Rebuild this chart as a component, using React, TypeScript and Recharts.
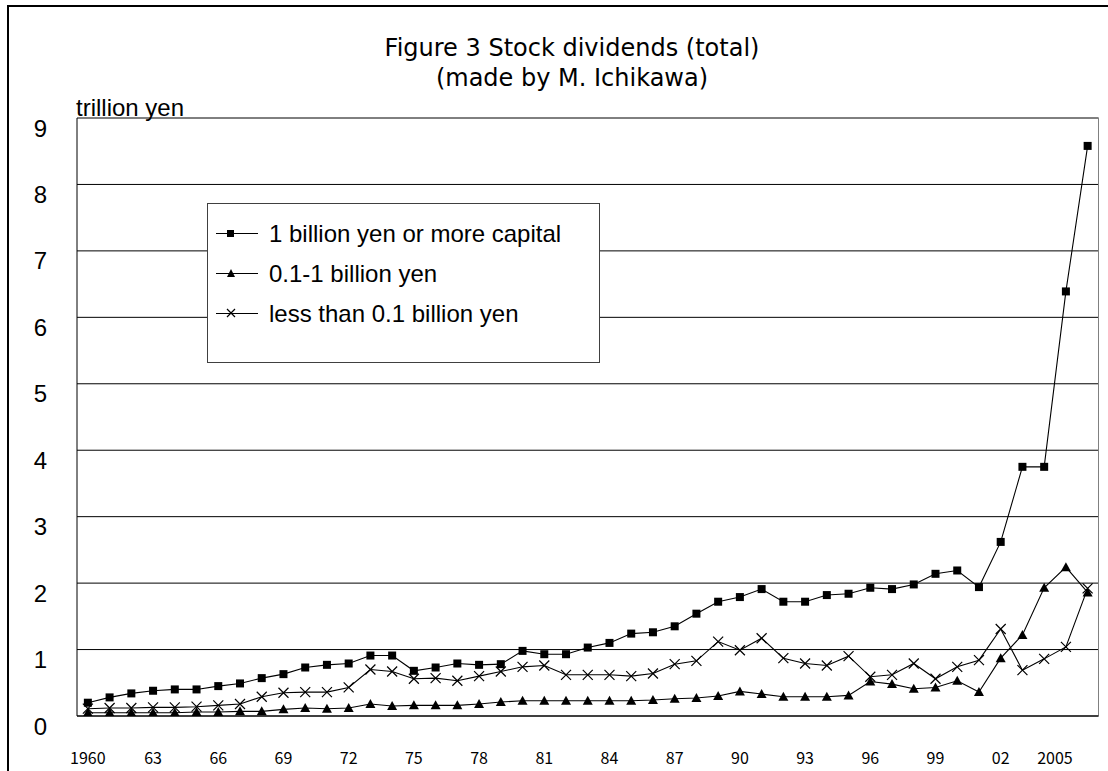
import React from 'react';
import { LineChart, Line, XAxis, YAxis, CartesianGrid, ReferenceLine, Legend } from 'recharts';

const years = [
  1960, 1961, 1962, 1963, 1964, 1965, 1966, 1967, 1968, 1969,
  1970, 1971, 1972, 1973, 1974, 1975, 1976, 1977, 1978, 1979,
  1980, 1981, 1982, 1983, 1984, 1985, 1986, 1987, 1988, 1989,
  1990, 1991, 1992, 1993, 1994, 1995, 1996, 1997, 1998, 1999,
  2000, 2001, 2002, 2003, 2004, 2005, 2006,
];

// 1 billion yen or more capital (trillion yen)
const largeCapital = [
  0.20, 0.28, 0.34, 0.38, 0.40, 0.40, 0.45, 0.49, 0.57, 0.63,
  0.73, 0.77, 0.79, 0.91, 0.91, 0.68, 0.73, 0.79, 0.77, 0.78,
  0.98, 0.93, 0.93, 1.03, 1.10, 1.24, 1.26, 1.35, 1.54, 1.72,
  1.79, 1.91, 1.72, 1.72, 1.82, 1.84, 1.93, 1.91, 1.98, 2.14,
  2.19, 1.94, 2.62, 3.75, 3.75, 6.39, 8.58,
];

// 0.1-1 billion yen
const midCapital = [
  0.05, 0.05, 0.05, 0.05, 0.05, 0.06, 0.06, 0.07, 0.07, 0.10,
  0.12, 0.11, 0.12, 0.18, 0.15, 0.16, 0.16, 0.16, 0.18, 0.21,
  0.23, 0.23, 0.23, 0.23, 0.23, 0.23, 0.24, 0.26, 0.27, 0.30,
  0.37, 0.33, 0.29, 0.29, 0.29, 0.31, 0.52, 0.48, 0.41, 0.43,
  0.53, 0.36, 0.87, 1.22, 1.93, 2.24, 1.86,
];

// less than 0.1 billion yen
const smallCapital = [
  0.11, 0.12, 0.12, 0.13, 0.13, 0.14, 0.16, 0.18, 0.29, 0.35,
  0.36, 0.36, 0.43, 0.70, 0.67, 0.56, 0.57, 0.53, 0.60, 0.67,
  0.74, 0.76, 0.62, 0.62, 0.62, 0.60, 0.64, 0.78, 0.83, 1.12,
  0.99, 1.17, 0.87, 0.79, 0.76, 0.90, 0.59, 0.62, 0.79, 0.56,
  0.74, 0.84, 1.31, 0.69, 0.86, 1.04, 1.92,
];

const tickYears = [1960, 1963, 1966, 1969, 1972, 1975, 1978, 1981, 1984, 1987, 1990, 1993, 1996, 1999, 2002, 2005];
const tickLabels = ['1960', '63', '66', '69', '72', '75', '78', '81', '84', '87', '90', '93', '96', '99', '02', '2005'];
const yTicks = [0, 1, 2, 3, 4, 5, 6, 7, 8, 9];
const seriesNames = ['1 billion yen or more capital', '0.1-1 billion yen', 'less than 0.1 billion yen'];

const data = years.map((year, i) => ({
  x: i + 0.5,
  year,
  large: largeCapital[i],
  mid: midCapital[i],
  small: smallCapital[i],
}));
const labelTicks = tickYears.map((y) => years.indexOf(y) + 0.5);
const boundaryTicks = years.map((_, i) => i).concat([years.length]);

const ARIAL = "'Liberation Sans', Arial, sans-serif";
const GOTHIC = "'Noto Sans CJK JP', 'Noto Sans', sans-serif";
const TITLE_FONT = "'DejaVu Sans', sans-serif";

const SquareDot = (props: any) => {
  const { cx, cy, index } = props;
  if (cx == null || cy == null) return <g key={index} />;
  return <rect key={index} x={cx - 4} y={cy - 4} width={8} height={8} fill="#000" />;
};
const TriangleDot = (props: any) => {
  const { cx, cy, index } = props;
  if (cx == null || cy == null) return <g key={index} />;
  return <path key={index} d={`M${cx},${cy - 5}L${cx + 5},${cy + 4}L${cx - 5},${cy + 4}Z`} fill="#000" />;
};
const CrossDot = (props: any) => {
  const { cx, cy, index } = props;
  if (cx == null || cy == null) return <g key={index} />;
  return (
    <path
      key={index}
      d={`M${cx - 5},${cy - 5}L${cx + 5},${cy + 5}M${cx + 5},${cy - 5}L${cx - 5},${cy + 5}`}
      stroke="#000"
      strokeWidth={1.2}
      fill="none"
    />
  );
};

const YTick = (props: any) => {
  const { x, y, payload } = props;
  return (
    <text x={x} y={y + 10} textAnchor="end" dominantBaseline="central" fontSize={24} fontFamily={ARIAL} fill="#000">
      {payload.value}
    </text>
  );
};

const XTick = (props: any) => {
  const { x, y, payload } = props;
  const idx = labelTicks.indexOf(payload.value);
  const label = idx >= 0 ? tickLabels[idx] : '';
  const dx = label === '2005' ? -11 : 0;
  return (
    <text x={x + dx} y={y + 40} textAnchor="middle" dominantBaseline="central" fontSize={16} fontFamily={GOTHIC} fill="#000">
      {label}
    </text>
  );
};

const legendIcons = [
  <rect key="s" x={19} y={10} width={7} height={7} fill="#000" />,
  <path key="t" d="M23,9L27,17L19,17Z" fill="#000" />,
  <path key="c" d="M19,9L27,17M27,9L19,17" stroke="#000" strokeWidth={1.2} fill="none" />,
];
const legendRowCenters = [30, 70, 110];

const LegendBox = () => (
  <div
    style={{
      boxSizing: 'border-box',
      width: 393,
      height: 160,
      border: '1px solid #404040',
      background: '#fff',
      position: 'relative',
    }}
  >
    {seriesNames.map((name, i) => (
      <div
        key={name}
        style={{ position: 'absolute', left: 0, top: legendRowCenters[i] - 14, height: 28, width: 390 }}
      >
        <svg width={50} height={28} style={{ position: 'absolute', left: 0, top: 0 }}>
          <line x1={8} y1={13.5} x2={55} y2={13.5} stroke="#000" strokeWidth={1} />
          {legendIcons[i]}
        </svg>
        <div
          style={{
            position: 'absolute',
            left: 61,
            top: 0,
            height: 28,
            lineHeight: '28px',
            fontSize: 24,
            fontFamily: ARIAL,
            color: '#000',
            whiteSpace: 'nowrap',
          }}
        >
          {name}
        </div>
      </div>
    ))}
  </div>
);

export default function App() {
  return (
    <div style={{ position: 'absolute', left: 0, top: 0, width: 1108, height: 771, overflow: 'hidden', background: '#fff' }}>
      <div
        style={{
          position: 'absolute',
          left: 7,
          top: 5,
          width: 1300,
          height: 1000,
          border: '2px solid #000',
        }}
      />
      <div style={{ position: 'absolute', left: 0, top: 0 }}>
        <LineChart width={1108} height={771} data={data} margin={{ top: 118, right: 9.5, bottom: 0, left: 0 }}>
          <CartesianGrid xAxisId="b" vertical={false} stroke="#000" strokeWidth={1} />
          <XAxis
            xAxisId="a"
            dataKey="x"
            type="number"
            domain={[0, 47]}
            ticks={boundaryTicks}
            interval={0}
            tick={false}
            tickSize={-6}
            tickLine={{ stroke: '#000' }}
            axisLine={{ stroke: '#000' }}
            height={1}
            allowDataOverflow
          />
          <XAxis
            xAxisId="b"
            dataKey="x"
            type="number"
            domain={[0, 47]}
            ticks={labelTicks}
            interval={0}
            tick={XTick}
            tickLine={false}
            axisLine={false}
            tickSize={0}
            tickMargin={0}
            height={54}
            allowDataOverflow
          />
          <YAxis
            domain={[0, 9]}
            ticks={yTicks}
            interval={0}
            width={77}
            axisLine={{ stroke: '#000' }}
            tickLine={false}
            tickSize={0}
            tickMargin={30}
            tick={YTick}
            allowDataOverflow
          />
          <ReferenceLine xAxisId="b" y={9} stroke="#808080" />
          <ReferenceLine xAxisId="b" x={47} stroke="#808080" />
          <Legend
            layout="vertical"
            align="center"
            verticalAlign="middle"
            content={() => <LegendBox />}
            wrapperStyle={{ left: 207, top: 203, width: 393, height: 160 }}
          />
          <Line
            xAxisId="b"
            dataKey="large"
            name={seriesNames[0]}
            stroke="#000"
            strokeWidth={1.1}
            dot={SquareDot}
            activeDot={false}
            isAnimationActive={false}
          />
          <Line
            xAxisId="b"
            dataKey="mid"
            name={seriesNames[1]}
            stroke="#000"
            strokeWidth={1.1}
            dot={TriangleDot}
            activeDot={false}
            isAnimationActive={false}
          />
          <Line
            xAxisId="b"
            dataKey="small"
            name={seriesNames[2]}
            stroke="#000"
            strokeWidth={1.1}
            dot={CrossDot}
            activeDot={false}
            isAnimationActive={false}
          />
        </LineChart>
      </div>
      <svg width={1108} height={130} style={{ position: 'absolute', left: 0, top: 0, pointerEvents: 'none' }}>
        <text x={572} y={56} textAnchor="middle" fontSize={24} fontFamily={TITLE_FONT} fill="#000">
          Figure 3 Stock dividends (total)
        </text>
        <text x={572} y={86} textAnchor="middle" fontSize={24} fontFamily={TITLE_FONT} fill="#000">
          (made by M. Ichikawa)
        </text>
        <text x={76} y={116} fontSize={24} fontFamily={ARIAL} fill="#000">
          trillion yen
        </text>
      </svg>
    </div>
  );
}
